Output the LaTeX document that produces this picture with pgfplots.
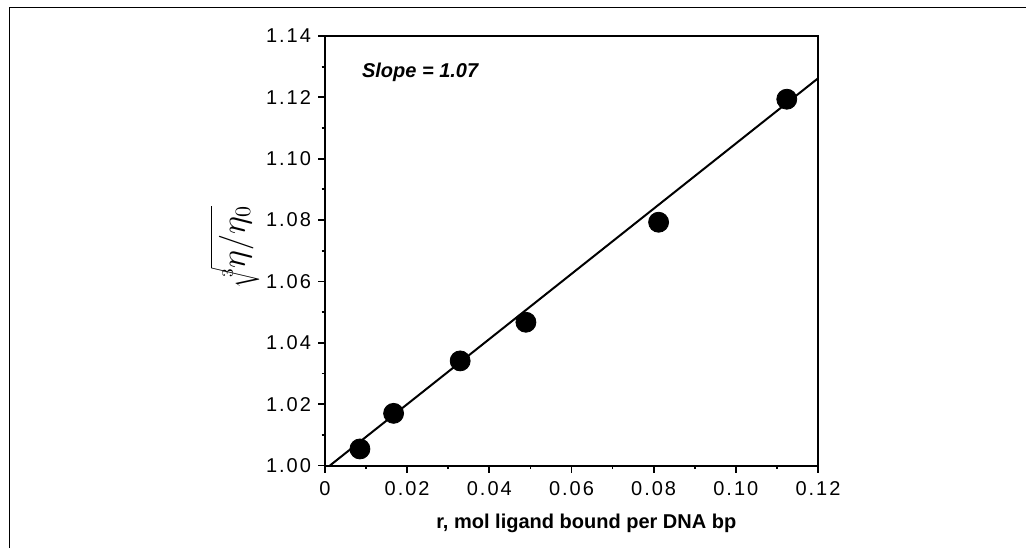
\documentclass[border=0pt]{standalone}
\usepackage{fontspec}
\setmainfont{Liberation Sans}
\newfontfamily\tickfont{Liberation Sans}[LetterSpace=10]
\usepackage{pgfplots}
\pgfplotsset{compat=1.18}
\begin{document}
\begin{tikzpicture}[x=1pt,y=1pt]
\path[use as bounding box] (0,0) rectangle (513,274);
\draw[line width=0.85pt] (4.7,0) -- (4.7,270.25) -- (513,270.25);
\begin{axis}[
  at={(162.5pt,41.25pt)}, anchor=south west,
  scale only axis, width=246.5pt, height=214.75pt,
  xmin=0, xmax=0.12, ymin=1.00, ymax=1.14,
  xtick={0,0.02,0.04,0.06,0.08,0.10,0.12},
  xticklabels={0,0.02,0.04,0.06,0.08,0.10,0.12},
  minor xtick={0.01,0.03,0.05,0.07,0.09,0.11},
  ytick={1.00,1.02,1.04,1.06,1.08,1.10,1.12,1.14},
  yticklabels={1.00,1.02,1.04,1.06,1.08,1.10,1.12,1.14},
  minor ytick={1.01,1.03,1.05,1.07,1.09,1.11,1.13},
  tick pos=left, tick align=outside,
  major tick length=3.5pt, minor tick length=1.75pt,
  axis line style={line width=1pt},
  every tick/.style={line width=0.9pt, black},
  /pgf/number format/assume math mode=true,
  ticklabel style={font=\tickfont\fontsize{10}{11}\selectfont},
  xticklabel style={yshift=-1pt},
  xlabel={r, mol ligand bound per DNA bp},
  xlabel style={at={(axis description cs:0.530,-0.134)}, anchor=center, font=\bfseries\fontsize{10}{12}\selectfont},
  ylabel={$\sqrt[3]{\eta/\eta_0}$},
  ylabel style={at={(axis description cs:-0.1826,0.510)}, anchor=center, rotate=0, font=\fontsize{16}{18}\selectfont},
  clip=false,
]
\addplot[black, line width=1pt, no marks] coordinates {(0.0012,1.000) (0.12,1.1262)};
\addplot[only marks, mark=*, mark size=5pt, black] coordinates {
  (0.0085,1.0054) (0.0167,1.0170) (0.0329,1.0341) (0.0489,1.0467) (0.0812,1.0793) (0.1124,1.1194)
};
\node[anchor=west, font=\bfseries\itshape\fontsize{10}{12}\selectfont] at (axis cs:0.0073,1.1283) {Slope = 1.07};
\end{axis}
\end{tikzpicture}
\end{document}
